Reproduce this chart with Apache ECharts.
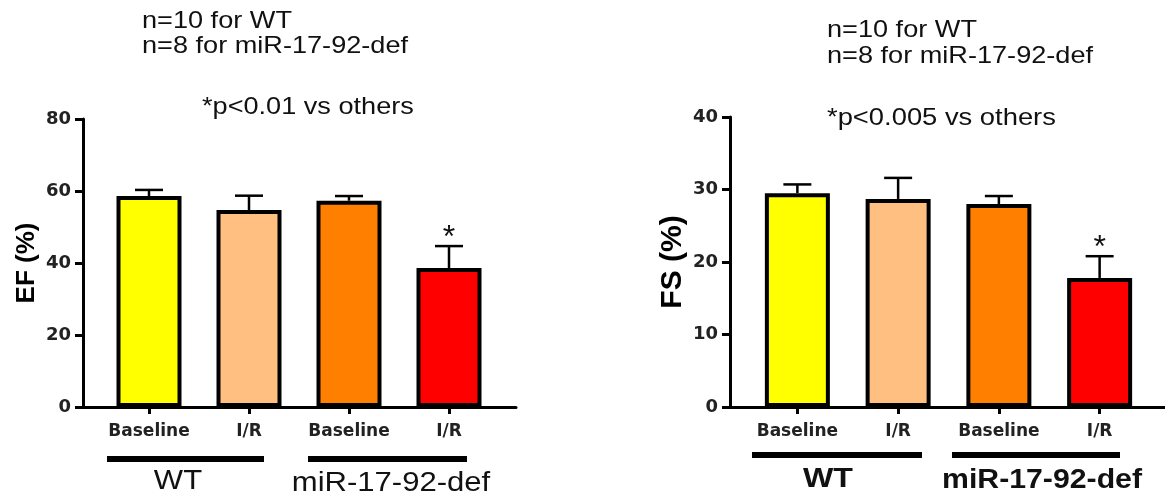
<!DOCTYPE html>
<html><head><meta charset="utf-8">
<script src="https://cdn.jsdelivr.net/npm/echarts@6/dist/echarts.min.js"></script>
<style>html,body{margin:0;padding:0;background:#fff}#c{width:1165px;height:500px}</style>
</head><body><div id="c"></div>
<script>
const categories = ['Baseline', 'I/R', 'Baseline', 'I/R'];
const barColors = ['#FFFF00', '#FFBF80', '#FF8000', '#FF0000'];
const efMean = [58.6, 54.7, 57.3, 38.6];
const efSem = [1.7, 4.0, 1.3, 6.1];
const fsMean = [29.5, 28.7, 28.0, 17.8];
const fsSem = [1.2, 2.9, 1.1, 3.0];
const sigMarks = ['', '', '', '*'];
const efAxis = { min: 0, max: 80, interval: 20 };
const fsAxis = { min: 0, max: 40, interval: 10 };
const groupNames = ['WT', 'miR-17-92-def'];
const notesLeft = ['n=10 for WT', 'n=8 for miR-17-92-def', '*p<0.01 vs others'];
const notesRight = ['n=10 for WT', 'n=8 for miR-17-92-def', '*p<0.005 vs others'];

const chart = echarts.init(document.getElementById('c'));
const tickFont = { fontFamily: 'DejaVu Sans', fontWeight: 'bold', fontSize: 18, color: '#222' };

function axisGridX(gi) {
  return { gridIndex: gi, type: 'value', min: 0, max: 1,
    axisLine: { show: true, onZero: false, lineStyle: { color: '#000', width: 3 } },
    axisTick: { show: false }, axisLabel: { show: false }, splitLine: { show: false } };
}
function catX(gi) {
  return { gridIndex: gi, type: 'category', data: categories,
    axisLine: { show: false },
    axisTick: { show: true, alignWithLabel: true, interval: 0, length: 7, lineStyle: { color: '#000', width: 3 } },
    axisLabel: Object.assign({ margin: 16, interval: 0 }, tickFont, { fontSize: 17 }), splitLine: { show: false } };
}
function valY(gi, ax, name, nameSize, gap) {
  return { gridIndex: gi, type: 'value', min: ax.min, max: ax.max, interval: ax.interval,
    name: name, nameLocation: 'middle', nameRotate: 90, nameGap: gap,
    nameTextStyle: { fontFamily: 'Liberation Sans', fontWeight: 'bold', fontSize: nameSize, color: '#000' },
    axisLine: { show: true, onZero: false, lineStyle: { color: '#000', width: 3 } },
    axisTick: { show: true, length: 8, lineStyle: { color: '#000', width: 3 } },
    axisLabel: Object.assign({ margin: 12 }, tickFont), splitLine: { show: false } };
}
function hiddenY(gi, ax) {
  return { gridIndex: gi, type: 'value', min: ax.min, max: ax.max, interval: ax.interval, show: false, splitLine: { show: false } };
}
function barSeries(xi, means) {
  return { type: 'bar', xAxisIndex: xi, yAxisIndex: xi, barWidth: 65,
    data: means.map((v, i) => ({ value: v, itemStyle: { color: barColors[i] } })),
    itemStyle: { borderColor: '#000', borderWidth: 4 }, silent: true, z: 2 };
}
function errSeries(xi, means, sems) {
  return { type: 'custom', xAxisIndex: xi, yAxisIndex: xi, clip: false, z: 3, silent: true,
    encode: { x: 0, y: 1 },
    data: means.map((m, i) => [i, m, sems[i]]),
    renderItem: function (params, api) {
      const i = api.value(0), m = api.value(1), s = api.value(2);
      const p0 = api.coord([i, m]);
      const p1 = api.coord([i, m + s]);
      const hw = 14;
      const children = [
        { type: 'line', shape: { x1: p0[0], y1: p0[1], x2: p1[0], y2: p1[1] }, style: { stroke: '#000', lineWidth: 2.5 } },
        { type: 'line', shape: { x1: p1[0] - hw, y1: p1[1], x2: p1[0] + hw, y2: p1[1] }, style: { stroke: '#000', lineWidth: 2.5 } }
      ];
      const mk = sigMarks[params.dataIndex];
      if (mk) children.push({ type: 'text', x: p1[0], y: p1[1] - 8,
        style: { text: mk, font: '32px "Liberation Sans"', fill: '#111', align: 'center', verticalAlign: 'middle' } });
      return { type: 'group', children: children };
    } };
}
function note(text, x, y, bold, size, sx, align) {
  return { type: 'text', x: x, y: y, scaleX: sx, silent: true,
    style: { text: text, font: (bold ? 'bold ' : '') + size + 'px "Liberation Sans"', fill: '#111',
      align: align || 'left', verticalAlign: 'middle' } };
}
function bar(x1, x2, y) {
  return { type: 'line', silent: true, shape: { x1: x1, y1: y, x2: x2, y2: y }, style: { stroke: '#000', lineWidth: 6 } };
}

chart.setOption({
  animation: false,
  grid: [
    { left: 83, top: 119, width: 433, height: 288 },
    { left: 99, top: 119, width: 400, height: 288 },
    { left: 730, top: 117, width: 435, height: 290 },
    { left: 747, top: 117, width: 403, height: 290 }
  ],
  xAxis: [axisGridX(0), catX(1), axisGridX(2), catX(3)],
  yAxis: [valY(0, efAxis, 'EF (%)', 26, 43), hiddenY(1, efAxis), valY(2, fsAxis, 'FS (%)', 30, 42), hiddenY(3, fsAxis)],
  series: [barSeries(1, efMean), errSeries(1, efMean, efSem), barSeries(3, fsMean), errSeries(3, fsMean, fsSem)],
  graphic: [
    note(notesLeft[0], 142, 21, false, 24, 1.13),
    note(notesLeft[1], 142, 46, false, 24, 1.13),
    note(notesLeft[2], 202, 107, false, 24, 1.13),
    note(notesRight[0], 827, 30, false, 24, 1.13),
    note(notesRight[1], 827, 56, false, 24, 1.13),
    note(notesRight[2], 827, 118, false, 24, 1.14),
    bar(107, 264, 459), bar(308, 467, 459),
    bar(752, 922, 455), bar(952, 1120, 455),
    note(groupNames[0], 178, 482, false, 27, 1.15, 'center'),
    note(groupNames[1], 391, 484, false, 27, 1.15, 'center'),
    note(groupNames[0], 828, 480, true, 27, 1.19, 'center'),
    note(groupNames[1], 1042, 481, true, 27, 1.12, 'center')
  ]
});
</script></body></html>
